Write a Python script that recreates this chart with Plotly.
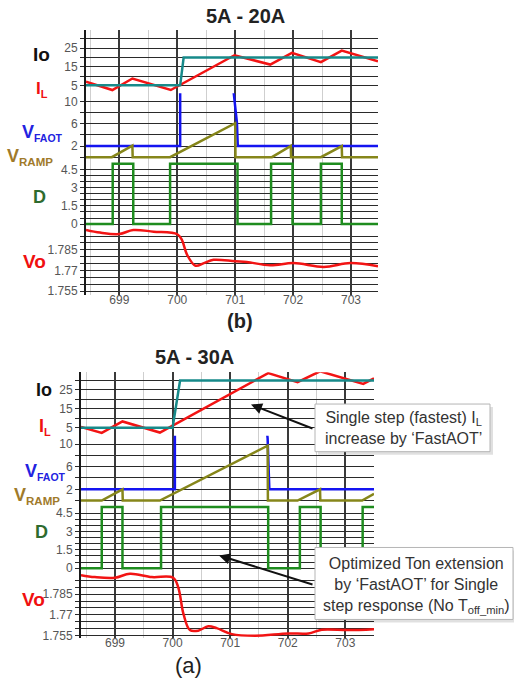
import plotly.graph_objects as go

# ---------------- DATA ----------------
# (b) 5A - 20A
b_io_t = [698.424, 700.05, 700.11, 703.466]
b_io = [5, 5, 20, 20]
b_il_t = [698.424, 698.879, 699.225, 699.888, 700.988, 701.605, 701.98, 702.48, 702.84, 703.466]
b_il = [7.0, 2.5, 8.7, 2.5, 21.2, 16.2, 22.5, 17.5, 23.7, 18.0]
b_faot_t = [698.424, 700.05, 700.05, 700.96, 700.98, 701.03, 701.045, 703.466]
b_faot = [2, 2, 13, 13, 11.0, 6.2, 2, 2]
b_ramp_t = [698.424, 698.87, 699.225, 699.23, 699.876, 701.0, 701.005, 701.634, 701.96, 701.965,
            702.48, 702.84, 702.845, 703.466]
b_ramp = [0, 0, 2.07, 0, 0, 6.1, 0, 0, 2.0, 0, 0, 2.0, 0, 0]
b_d_t = [698.424, 698.885, 699.24, 699.876, 701.04, 701.62, 701.99, 702.48, 702.84, 703.466]
b_d = [0, 5, 0, 5, 0, 5, 0, 5, 0, 0]
b_vo_t = [698.424, 698.666, 699.0, 699.24, 699.59, 700.0, 700.08, 700.17, 700.315, 700.46, 700.625,
          701.0, 701.2, 701.605, 702.01, 702.53, 702.99, 703.466]
b_vo = [1.7994, 1.7975, 1.7965, 1.7994, 1.7982, 1.7963, 1.7922, 1.7814, 1.7735, 1.7754, 1.7778,
        1.7767, 1.7762, 1.7738, 1.7754, 1.7726, 1.7754, 1.7731]

# (a) 5A - 30A
a_io_t = [698.41, 700.0, 700.13, 703.497]
a_io = [5, 5, 30, 30]
a_il_t = [698.41, 698.77, 699.13, 699.78, 701.66, 702.17, 702.56, 702.94, 703.31, 703.497]
a_il = [5.4, 2.2, 8.3, 2.4, 33.9, 29.1, 34.9, 31.7, 28.2, 31.2]
a_faot_t = [698.41, 700.04, 700.04, 701.63, 701.65, 701.68, 703.497]
a_faot = [2, 2, 13, 13, 11, 2, 2]
a_ramp_t = [698.41, 698.77, 699.13, 699.135, 699.78, 701.65, 701.655, 702.17, 702.56, 702.565,
            703.29, 703.497]
a_ramp = [0, 0, 2.0, 0, 0, 9.7, 0, 0, 2.0, 0, 0, 1.2]
a_d_t = [698.41, 698.77, 699.13, 699.8, 701.66, 702.21, 702.57, 703.3, 703.497]
a_d = [0, 5, 0, 5, 0, 5, 0, 5, 5]
a_vo_t = [698.41, 698.65, 699.0, 699.26, 699.64, 700.01, 700.1, 700.19, 700.3, 700.445, 700.62,
          700.765, 701.03, 701.43, 702.01, 702.36, 702.59, 703.05, 703.5]
a_vo = [1.7987, 1.7973, 1.7968, 1.7997, 1.7973, 1.7968, 1.7896, 1.7705, 1.759, 1.7586, 1.7617,
        1.7604, 1.7561, 1.755, 1.7566, 1.7566, 1.7593, 1.759, 1.7597]

# tick labels and grid values
x_tick_vals = [699, 700, 701, 702, 703]
x_tick_text = ["699", "700", "701", "702", "703"]
x_minor_vals = [698.5, 699.5, 700.5, 701.5, 702.5, 703.5]

io_tick_vals = [5, 15, 25]
io_tick_text = ["5", "15", "25"]
io_minor = [10, 20, 30]
v_tick_vals = [2, 6, 10]
v_tick_text = ["2", "6", "10"]
v_minor = [0, 4, 8]
d_tick_vals = [0, 1.5, 3, 4.5]
d_tick_text = ["0", "1.5", "3", "4.5"]
d_minor = [0.5, 1, 2, 2.5, 3.5, 4]
vo_tick_vals = [1.755, 1.77, 1.785]
vo_tick_text = ["1.755", "1.77", "1.785"]
vo_minor = [1.76, 1.765, 1.775, 1.78, 1.79, 1.795]

# ---------------- STYLE ----------------
W, H = 514, 686
C_IO = "#178A8A"
C_IL = "#F21414"
C_FAOT = "#1414F0"
C_RAMP = "#86861A"
C_D = "#1E8C1E"
GRID = "#2a2a2a"
FONT = "Liberation Sans"


def px(x):
    return x / W


def py(y):
    return 1 - y / H


def lin_range(top_px, bot_px, p1, p2):
    (y1, v1), (y2, v2) = p1, p2
    k = (v2 - v1) / (y2 - y1)
    return [v1 + (bot_px - y1) * k, v1 + (top_px - y1) * k]


def yax(top, bot, rng, tvals, ttext, minor_vals, anchor):
    return dict(domain=[py(bot), py(top)], range=rng, anchor=anchor,
                tickmode="array", tickvals=tvals, ticktext=ttext,
                showgrid=True, gridcolor=GRID, gridwidth=1.2, zeroline=False,
                showline=True, linecolor="#1a1a1a", linewidth=2,
                ticks="outside", ticklen=4, tickcolor=GRID, tickwidth=1.2,
                minor=dict(tickmode="array", tickvals=minor_vals, showgrid=True,
                           gridcolor=GRID, gridwidth=1.2, ticks="outside", ticklen=4,
                           tickcolor=GRID, tickwidth=1.2),
                tickfont=dict(family=FONT, size=12, color="#555"), fixedrange=True)


def xax(left, right, rng, anchor):
    return dict(domain=[px(left), px(right)], range=rng, anchor=anchor,
                tickmode="array", tickvals=x_tick_vals, ticktext=x_tick_text,
                showgrid=True, gridcolor="#3a3a3a", gridwidth=1.6, zeroline=False,
                showline=False, ticks="", ticklabelstandoff=-4,
                minor=dict(tickmode="array", tickvals=x_minor_vals, showgrid=True,
                           gridcolor="#cfcfcf", gridwidth=1.3, ticks=""),
                tickfont=dict(family=FONT, size=12, color="#555"), fixedrange=True)


fig = go.Figure()


def line(t, v, color, xa, ya, shape="linear", width=2.5):
    fig.add_trace(go.Scatter(x=t, y=v, mode="lines", xaxis=xa, yaxis=ya,
                             line=dict(color=color, width=width, shape=shape),
                             showlegend=False, hoverinfo="skip"))


# top figure (b)
line(b_il_t, b_il, C_IL, "x", "y")
line(b_io_t, b_io, C_IO, "x", "y")
line(b_faot_t, b_faot, C_FAOT, "x", "y2")
line(b_ramp_t, b_ramp, C_RAMP, "x", "y2")
line(b_d_t, b_d, C_D, "x", "y3", shape="hv")
line(b_vo_t, b_vo, C_IL, "x", "y4", shape="spline")
# bottom figure (a)
line(a_il_t, a_il, C_IL, "x2", "y5")
line(a_io_t, a_io, C_IO, "x2", "y5")
line(a_faot_t, a_faot, C_FAOT, "x2", "y6")
line(a_ramp_t, a_ramp, C_RAMP, "x2", "y6")
line(a_d_t, a_d, C_D, "x2", "y7", shape="hv")
line(a_vo_t, a_vo, C_IL, "x2", "y8", shape="spline")

layout = dict(
    width=W, height=H, autosize=False,
    margin=dict(l=0, r=0, t=0, b=0),
    paper_bgcolor="white", plot_bgcolor="white",
    xaxis=xax(86, 378, [698.424, 703.466], "y4"),
    xaxis2=xax(81, 374, [698.41, 703.497], "y8"),
    yaxis=yax(30, 94, lin_range(30, 94, (86, 5), (39.2, 30)),
              io_tick_vals, io_tick_text, io_minor, "x"),
    yaxis2=yax(94, 161, lin_range(94, 161, (158.3, 0), (102.3, 10)),
               v_tick_vals, v_tick_text, v_minor, "x"),
    yaxis3=yax(161, 228.5, lin_range(161, 228.5, (225.7, 0), (171, 4.5)),
               d_tick_vals, d_tick_text, d_minor, "x"),
    yaxis4=yax(228.5, 297, lin_range(228.5, 297, (251.7, 1.785), (279.5, 1.765)),
               vo_tick_vals, vo_tick_text, vo_minor, "x"),
    yaxis5=yax(375, 439, lin_range(375, 439, (430.8, 5), (383.3, 30)),
               io_tick_vals, io_tick_text, io_minor, "x2"),
    yaxis6=yax(439, 507.5, lin_range(439, 507.5, (504.3, 0), (447.3, 10)),
               v_tick_vals, v_tick_text, v_minor, "x2"),
    yaxis7=yax(507.5, 575.5, lin_range(507.5, 575.5, (572.3, 0), (510.8, 5)),
               d_tick_vals, d_tick_text, d_minor, "x2"),
    yaxis8=yax(575.5, 643, lin_range(575.5, 643, (640.3, 1.755), (598.45, 1.785)),
               vo_tick_vals, vo_tick_text, vo_minor, "x2"),
)
fig.update_layout(**layout)

annos = []


def label(text, x, y, size, color, bold=True, family=FONT):
    t = f"<b>{text}</b>" if bold else text
    annos.append(dict(text=t, x=px(x), y=py(y), xref="paper", yref="paper",
                      xanchor="center", yanchor="middle", showarrow=False,
                      font=dict(family=family, size=size, color=color)))


def sub(main, s, size):
    return f"{main}<sub><span style='font-size:{size}px'>{s}</span></sub>"


# titles and captions
label("5A - 20A", 245, 16, 20, "#222")
label("5A - 30A", 194, 360, 20, "#222")
label("(b)", 240, 323, 20, "#222")
label("(a)", 188, 670, 22, "#222", bold=False)

# panel labels (b)
label("Io", 41, 55, 19, "#111")
label(sub("I", "L", 11), 42, 90, 17, "#F01010")
label(sub("V", "FAOT", 10.5), 42, 134, 18, "#2222E0")
label(sub("V", "RAMP", 11.5), 30, 158, 18, "#A07A2A")
label("D", 39, 198, 18, "#2E6B2E")
label("Vo", 34, 263, 19, "#F01010")
# panel labels (a)
label("Io", 44, 393, 18, "#111")
label(sub("I", "L", 11), 45, 430, 18, "#F01010")
label(sub("V", "FAOT", 10.5), 45, 475, 18, "#2222E0")
label(sub("V", "RAMP", 11.5), 37, 500, 18, "#A07A2A")
label("D", 41, 536, 18, "#2E6B2E")
label("Vo", 33, 604, 19, "#F01010")

# call-out boxes
shapes = []
for (x0, y0, x1, y1) in [(315, 407, 490, 455), (315, 551.5, 513, 624)]:
    shapes.append(dict(type="rect", xref="paper", yref="paper", layer="above",
                       x0=px(x0 + 3), x1=px(min(x1 + 3, 514)), y0=py(y1 + 3), y1=py(y0 + 3),
                       fillcolor="rgba(0,0,0,0.12)", line=dict(width=0)))
    shapes.append(dict(type="rect", xref="paper", yref="paper", layer="above",
                       x0=px(x0), x1=px(x1), y0=py(y1), y1=py(y0),
                       fillcolor="white", line=dict(color="#b5b5b5", width=1)))
fig.update_layout(shapes=shapes)

annos.append(dict(text="Single step (fastest) I<sub>L</sub><br>increase by \u2018FastAOT\u2019",
                  x=px(403), y=py(431.5), xref="paper", yref="paper", xanchor="center",
                  yanchor="middle", showarrow=False, align="center",
                  font=dict(family=FONT, size=16, color="#333")))
annos.append(dict(text="Optimized Ton extension<br>by \u2018FastAOT\u2019 for Single<br>step response (No T<sub>off_min</sub>)",
                  x=px(416), y=py(589.5), xref="paper", yref="paper", xanchor="center",
                  yanchor="middle", showarrow=False, align="center",
                  font=dict(family=FONT, size=16, color="#333")))

# arrows
for (hx, hy, tx, ty) in [(251, 407.5, 314, 432), (219, 559.5, 314, 589)]:
    annos.append(dict(text="", x=px(hx), y=py(hy), xref="paper", yref="paper",
                      ax=tx - hx, ay=ty - hy, axref="pixel", ayref="pixel",
                      showarrow=True, arrowhead=2, arrowsize=1.1, arrowwidth=2,
                      arrowcolor="#111", standoff=0))

fig.update_layout(annotations=annos)
fig.write_html("out.html", config={"displayModeBar": False},
               post_script="document.body.style.margin='0';document.body.style.padding='0';")
